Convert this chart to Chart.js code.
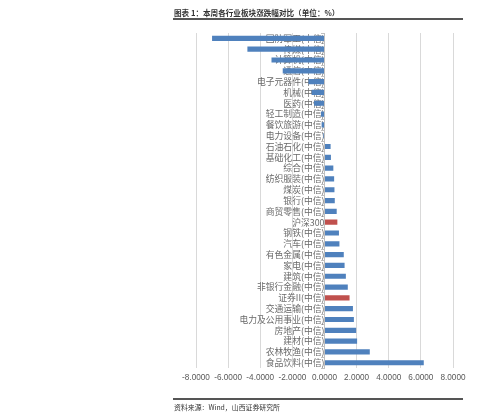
<!DOCTYPE html>
<html>
<head>
<meta charset="utf-8">
<script src="https://cdn.jsdelivr.net/npm/chart.js@4/dist/chart.umd.min.js"></script>
<style>
  html, body { margin: 0; padding: 0; background: #fff; }
  #wrap { position: relative; width: 499px; height: 418px; overflow: hidden; }
  #chart { position: absolute; left: 0; top: 0; }
  .title { position: absolute; left: 174px; top: 7px; font: bold 7.6px "Noto Sans CJK SC", sans-serif; color: #333; white-space: nowrap; }
  .rule { position: absolute; left: 173px; width: 290px; height: 2px; background: #555; }
  .source { position: absolute; left: 174px; top: 402px; font: 6.9px "Noto Sans CJK SC", sans-serif; color: #333; white-space: nowrap; }
</style>
</head>
<body>
<div id="wrap">
  <canvas id="chart" width="499" height="418"></canvas>
  <div class="title">图表 1：本周各行业板块涨跌幅对比（单位：%）</div>
  <div class="rule" style="top:18px"></div>
  <div class="rule" style="top:398px"></div>
  <div class="source">资料来源：Wind，山西证券研究所</div>
</div>
<script>
// 行业名称（从上到下）
const industries = [
    '国防军工(中信)', '传媒(中信)', '计算机(中信)', '通信(中信)', '电子元器件(中信)',
    '机械(中信)', '医药(中信)', '轻工制造(中信)', '餐饮旅游(中信)', '电力设备(中信)',
    '石油石化(中信)', '基础化工(中信)', '综合(中信)', '纺织服装(中信)', '煤炭(中信)',
    '银行(中信)', '商贸零售(中信)', '沪深300', '钢铁(中信)', '汽车(中信)',
    '有色金属(中信)', '家电(中信)', '建筑(中信)', '非银行金融(中信)', '证券II(中信)',
    '交通运输(中信)', '电力及公用事业(中信)', '房地产(中信)', '建材(中信)', '农林牧渔(中信)',
    '食品饮料(中信)'
];

// 本周涨跌幅（%）
const weeklyChange = [
    -7.00, -4.80, -3.30, -2.60, -1.00,
    -0.80, -0.65, -0.22, -0.18, -0.07,
    0.38, 0.40, 0.55, 0.60, 0.62,
    0.64, 0.76, 0.80, 0.90, 0.93,
    1.20, 1.25, 1.33, 1.45, 1.56,
    1.77, 1.83, 1.97, 2.03, 2.82,
    6.18
];

// 高亮项（指数与证券）
const highlighted = ['沪深300', '证券II(中信)'];

const xTicks = { min: -8, max: 8, step: 2 };

const BLUE = '#4f81bd';
const RED = '#c0504d';

const ctx = document.getElementById('chart').getContext('2d');
new Chart(ctx, {
    type: 'bar',
    data: {
        labels: industries,
        datasets: [{
            data: weeklyChange,
            backgroundColor: industries.map(n => highlighted.includes(n) ? RED : BLUE),
            barPercentage: 0.48,
            categoryPercentage: 1
        }]
    },
    options: {
        indexAxis: 'y',
        responsive: false,
        animation: false,
        layout: { padding: { left: 196, right: 46, top: 33, bottom: 30 } },
        plugins: {
            legend: { display: false },
            tooltip: { enabled: false }
        },
        scales: {
            x: {
                min: xTicks.min,
                max: xTicks.max,
                grid: { color: '#d9d9d9', lineWidth: 1, drawTicks: false },
                border: { display: false },
                ticks: {
                    stepSize: xTicks.step,
                    padding: 5,
                    maxRotation: 0,
                    minRotation: 0,
                    autoSkip: false,
                    color: '#595959',
                    font: { family: 'Liberation Sans', size: 8.2 },
                    callback: v => v.toFixed(4)
                }
            },
            y: {
                position: { x: 0 },
                z: 1,
                grid: { drawOnChartArea: false, drawTicks: true, tickLength: 3, color: '#bfbfbf' },
                border: { display: true, color: '#bfbfbf' },
                ticks: {
                    autoSkip: false,
                    padding: 0,
                    color: '#6a6a6a',
                    font: { family: 'Noto Sans CJK SC', size: 8.8 }
                }
            }
        }
    }
});
</script>
</body>
</html>
